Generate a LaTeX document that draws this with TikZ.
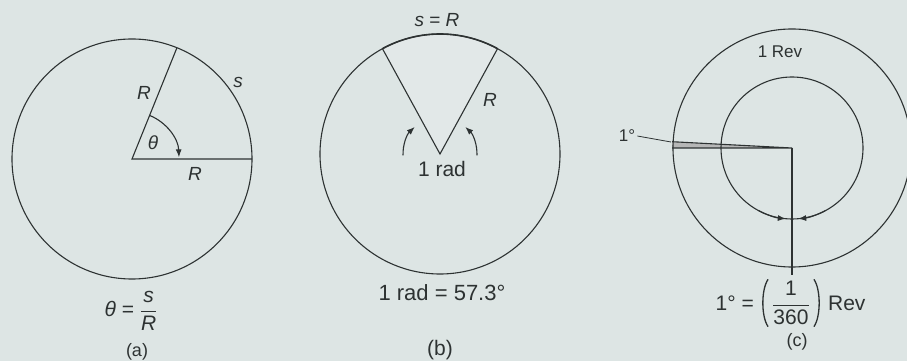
\documentclass[tikz,border=0pt]{standalone}
\usepackage{fontspec}
\setmainfont{Liberation Sans}
\usetikzlibrary{arrows.meta,calc}
\definecolor{paper}{RGB}{221,229,228}
\definecolor{ink}{RGB}{45,50,50}
\begin{document}
\begin{tikzpicture}[x=1pt,y=1pt,
  line/.style={draw=ink, line width=1.1pt},
  lbl/.style={text=ink, font=\fontsize{17}{20}\selectfont, inner sep=0pt},
  lblm/.style={text=ink, font=\fontsize{19}{22}\selectfont, inner sep=0pt},
  lblb/.style={text=ink, font=\fontsize{21}{24}\selectfont, inner sep=0pt},
  lblf/.style={text=ink, font=\fontsize{22}{25}\selectfont, inner sep=0pt},
  paren/.style={draw=ink, line width=1.3pt},
  tip/.style={-{Latex[length=8pt,width=6pt]}}]
\fill[paper] (0,0) rectangle (907,361);
\useasboundingbox (0,0) rectangle (907,361);

% ---------- (a)
\coordinate (A) at (132,202);
\draw[line] (A) circle[radius=120];
\coordinate (A0) at ($(A)+(0:120)$);
\coordinate (A1) at ($(A)+(68:120)$);
\draw[line] (A1) -- (A) -- (A0);
\coordinate (Aa) at ($(A)+(68:47)$);
\draw[line, tip] (Aa) arc[start angle=68, end angle=2, radius=47];
\node[lblm] (th) at (153,218) {\textit{θ}};
\node[lblm] (Ra) at (144,268) {\textit{R}};
\node[lblm] (Rb) at (195,187) {\textit{R}};
\node[lblm] (sa) at (238,279) {\textit{s}};
\node[lblb] (fa) at (131,50) {\textit{θ} = $\displaystyle\frac{\hbox{\textit{s}}}{\hbox{\textit{R}}}$};
\node[lbl, font=\fontsize{18}{21}\selectfont] (capa) at (137,9) {(a)};

% ---------- (b)
\coordinate (B) at (440,207);
\coordinate (B1) at ($(B)+(118.65:120)$);
\coordinate (B2) at ($(B)+(61.35:120)$);
\fill[white, opacity=0.15] (B) -- (B2) arc[start angle=61.35, end angle=118.65, radius=120] -- cycle;
\draw[line] (B) circle[radius=120];
\draw[line, line width=1.6pt] (B2) arc[start angle=61.35, end angle=118.65, radius=120];
\draw[line] (B1) -- (B) -- (B2);
\coordinate (Bl) at ($(B)+(182:37)$);
\coordinate (Br) at ($(B)+(-2:37)$);
\draw[line, tip] (Bl) arc[start angle=182, end angle=133, radius=37];
\draw[line, tip] (Br) arc[start angle=-2, end angle=47, radius=37];
\node[lblm] (sR) at (437,341) {\textit{s} = \textit{R}};
\node[lblm] (Rbb) at (490,261) {\textit{R}};
\node[lblb] (rad) at (442,192) {1 rad};
\node[lblf] (fb) at (442,68) {1 rad = 57.3°};
\node[lblb] (capb) at (440,11) {(b)};

% ---------- (c)
\coordinate (C) at (792,213);
\coordinate (Cw0) at ($(C)+(180:120)$);
\coordinate (Cw1) at ($(C)+(177:120)$);
\fill[ink!35] (C) -- (Cw0) -- (Cw1) -- cycle;
\draw[line] (C) circle[radius=119];
\draw[line] (C) circle[radius=71];
\draw[line] (Cw1) -- (C) -- (Cw0);
\coordinate (Cv) at (792,86);
\draw[line] (C) -- (Cv);
\coordinate (Ci1) at ($(C)+(-118:71)$);
\coordinate (Ci2) at ($(C)+(-62:71)$);
\draw[line, tip] (Ci1) arc[start angle=-118, end angle=-95, radius=71];
\draw[line, tip] (Ci2) arc[start angle=-62, end angle=-85, radius=71];
\node[lbl] (rev) at (780,309) {1 Rev};
\node[lbl] (deg) at (627,225) {1°};
\coordinate (degend) at (671,219);
\draw[ink, line width=0.8pt] ([xshift=2pt]deg.east) -- (degend);
% formula 1° = (1/360) Rev
\node[lblb] (frac) at (791,58) {$\displaystyle\frac{\hbox{1}}{\hbox{360}}$};
\node[lblb, anchor=east] (fc1) at ([xshift=-18pt]frac.west) {1° =};
\node[lblb, anchor=west] (fcr) at ([xshift=18pt]frac.east) {Rev};
\draw[paren] ([xshift=-4pt,yshift=2pt]frac.north west) .. controls ([xshift=-11pt,yshift=-8pt]frac.north west) and ([xshift=-11pt,yshift=8pt]frac.south west) .. ([xshift=-4pt,yshift=-2pt]frac.south west);
\draw[paren] ([xshift=4pt,yshift=2pt]frac.north east) .. controls ([xshift=11pt,yshift=-8pt]frac.north east) and ([xshift=11pt,yshift=8pt]frac.south east) .. ([xshift=4pt,yshift=-2pt]frac.south east);
\node[lbl, font=\fontsize{18}{21}\selectfont] (capc) at (797,19) {(c)};
\end{tikzpicture}
\end{document}
